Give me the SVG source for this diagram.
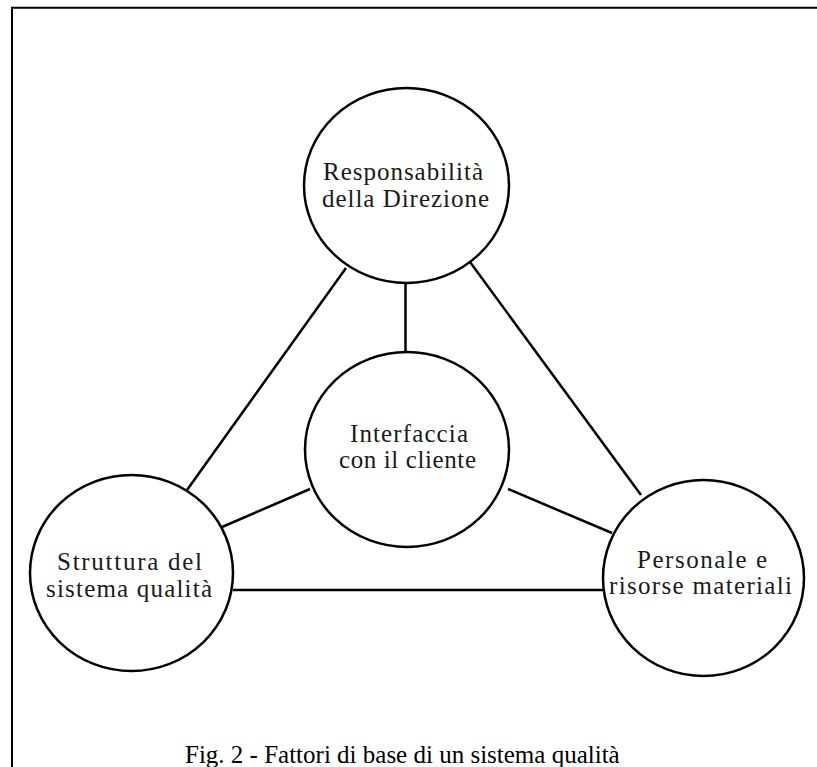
<svg xmlns="http://www.w3.org/2000/svg" width="817" height="767" viewBox="0 0 817 767">
<style>
.frame{fill:none;stroke:#000;stroke-width:2}
.node{fill:#fff;stroke:#000;stroke-width:2.5}
.conn{stroke:#000;stroke-width:2.5;fill:none}
.lbl{font-family:"Liberation Serif","Times New Roman",serif;font-size:25px;fill:#1a1a1a}
.cap{font-family:"Liberation Serif","Times New Roman",serif;font-size:25px;fill:#000}
</style>
<rect width="817" height="767" fill="#fff"/>
<path class="frame" d="M12,767 V7.7 H817"/>
<g id="connectors">
<line class="conn" x1="405.5" y1="283" x2="405.5" y2="352"/>
<line class="conn" x1="346" y1="268" x2="187" y2="490"/>
<line class="conn" x1="470" y1="262" x2="641" y2="495"/>
<line class="conn" x1="310" y1="489" x2="222" y2="527"/>
<line class="conn" x1="508" y1="489" x2="612" y2="533"/>
<line class="conn" x1="233" y1="590" x2="603" y2="590"/>
</g>
<g id="node-direzione">
<ellipse class="node" cx="406.5" cy="185.5" rx="102.5" ry="97.5"/>
<text class="lbl" x="323" y="180" textLength="160" lengthAdjust="spacing">Responsabilità</text>
<text class="lbl" x="322" y="207" textLength="167" lengthAdjust="spacing">della Direzione</text>
</g>
<g id="node-interfaccia">
<ellipse class="node" cx="407" cy="449.5" rx="102" ry="97.5"/>
<text class="lbl" x="350" y="442" textLength="118" lengthAdjust="spacing">Interfaccia</text>
<text class="lbl" x="339" y="468" textLength="137" lengthAdjust="spacing">con il cliente</text>
</g>
<g id="node-struttura">
<ellipse class="node" cx="131.5" cy="573" rx="101.5" ry="98"/>
<text class="lbl" x="57" y="570" textLength="145" lengthAdjust="spacing">Struttura del</text>
<text class="lbl" x="46" y="597" textLength="166" lengthAdjust="spacing">sistema qualità</text>
</g>
<g id="node-personale">
<ellipse class="node" cx="703.5" cy="578" rx="100.5" ry="98"/>
<text class="lbl" x="637" y="568" textLength="130" lengthAdjust="spacing">Personale e</text>
<text class="lbl" x="609" y="594" textLength="183" lengthAdjust="spacing">risorse materiali</text>
</g>
<text class="cap" x="185" y="763">Fig. 2 - Fattori di base di un sistema qualità</text>
</svg>
